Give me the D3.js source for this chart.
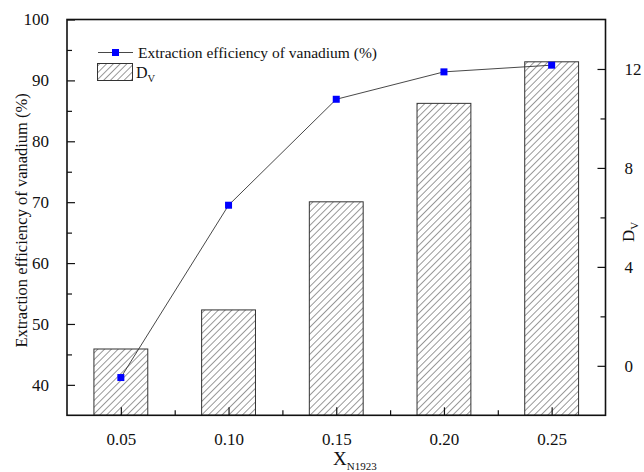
<!DOCTYPE html>
<html>
<head>
<meta charset="utf-8">
<script src="https://cdn.jsdelivr.net/npm/d3@7"></script>
<style>
  body { margin: 0; background: #fff; }
  svg text { font-family: "Liberation Serif", "Times New Roman", serif; fill: #111; }
</style>
</head>
<body>
<svg id="chart" width="644" height="472"></svg>
<script>
var xValues = [0.05, 0.10, 0.15, 0.20, 0.25];
var xTickLabels = ["0.05", "0.10", "0.15", "0.20", "0.25"];
var efficiency = [41.2, 69.5, 86.9, 91.4, 92.5];   // left axis, %
var dv = [0.68, 2.26, 6.63, 10.61, 12.29];          // right axis
var leftTicks = [40, 50, 60, 70, 80, 90, 100];
var leftMinor = [45, 55, 65, 75, 85, 95];
var rightTicks = [0, 4, 8, 12];
var rightMinor = [2, 6, 10];
var xMinor = [0.075, 0.125, 0.175, 0.225];

var margin = {left: 67, right: 38.5, top: 19.5, bottom: 56.7};
var width = 644 - margin.left - margin.right;
var height = 472 - margin.top - margin.bottom;

var svg = d3.select("#chart");

// hatch for the bars
var defs = svg.append("defs");
defs.append("pattern")
    .attr("id", "hatch")
    .attr("patternUnits", "userSpaceOnUse")
    .attr("width", 4.8).attr("height", 10)
    .attr("patternTransform", "rotate(45)")
  .append("line")
    .attr("x1", 0).attr("y1", 0).attr("x2", 0).attr("y2", 10)
    .attr("stroke", "#333").attr("stroke-width", 1);

var x = d3.scaleLinear().domain([0.025, 0.275]).range([0, width]);
var yLeft = d3.scaleLinear().domain([35, 100]).range([height, 0]);
var yRight = d3.scaleLinear().domain([-2, 14]).range([height, 0]);
var barW = x(0.0375) - x(0.0125);

var g = svg.append("g").attr("transform", "translate(" + margin.left + "," + margin.top + ")");

// bars (right axis)
g.selectAll("rect.bar")
  .data(dv)
  .enter()
  .append("rect")
  .attr("class", "bar")
  .attr("x", (d, i) => x(xValues[i]) - barW / 2)
  .attr("y", d => yRight(d))
  .attr("width", barW)
  .attr("height", d => yRight(-2) - yRight(d))
  .attr("fill", "url(#hatch)")
  .attr("stroke", "#333")
  .attr("stroke-width", 1);

// line + markers (left axis)
var line = d3.line().x((d, i) => x(xValues[i])).y(d => yLeft(d));
g.append("path")
  .datum(efficiency)
  .attr("d", line)
  .attr("fill", "none")
  .attr("stroke", "#333")
  .attr("stroke-width", 0.9);

g.selectAll("rect.pt")
  .data(efficiency)
  .enter()
  .append("rect")
  .attr("class", "pt")
  .attr("x", (d, i) => x(xValues[i]) - 3.5)
  .attr("y", d => yLeft(d) - 3.5)
  .attr("width", 7).attr("height", 7)
  .attr("fill", "#0000ff");

// axes, all ticks point inwards
function styleAxis(sel) {
  sel.attr("font-family", "Liberation Serif");
  sel.select(".domain").remove();
  sel.selectAll("line").attr("stroke", "#111").attr("stroke-width", 1.2);
  sel.selectAll("text").attr("font-size", 17);
}

var leftAxis = g.append("g")
  .call(d3.axisLeft(yLeft).tickValues(leftTicks).tickSize(-8).tickPadding(18).tickFormat(d3.format("d")));
styleAxis(leftAxis);
var leftMin = g.append("g").call(d3.axisLeft(yLeft).tickValues(leftMinor).tickSize(-5).tickFormat(""));
styleAxis(leftMin);

var rightAxis = g.append("g").attr("transform", "translate(" + width + ",0)")
  .call(d3.axisRight(yRight).tickValues(rightTicks).tickSize(-8).tickPadding(19).tickFormat(d3.format("d")));
styleAxis(rightAxis);
var rightMin = g.append("g").attr("transform", "translate(" + width + ",0)")
  .call(d3.axisRight(yRight).tickValues(rightMinor).tickSize(-5).tickFormat(""));
styleAxis(rightMin);

var bottomAxis = g.append("g").attr("transform", "translate(0," + height + ")")
  .call(d3.axisBottom(x).tickValues(xValues).tickSize(-8).tickPadding(18).tickFormat((d, i) => xTickLabels[i]));
styleAxis(bottomAxis);
var bottomMin = g.append("g").attr("transform", "translate(0," + height + ")")
  .call(d3.axisBottom(x).tickValues(xMinor).tickSize(-5).tickFormat(""));
styleAxis(bottomMin);

// frame
g.append("rect")
  .attr("width", width).attr("height", height)
  .attr("fill", "none").attr("stroke", "#111").attr("stroke-width", 1.6);

// axis titles
svg.append("text")
  .attr("transform", "translate(27," + (margin.top + height / 2 + 3) + ") rotate(-90)")
  .attr("text-anchor", "middle")
  .attr("font-size", 16.5)
  .text("Extraction efficiency of vanadium (%)");

var dvTitle = svg.append("text")
  .attr("transform", "translate(634,232) rotate(-90)")
  .attr("text-anchor", "middle")
  .attr("font-size", 17);
dvTitle.append("tspan").text("D");
dvTitle.append("tspan").attr("font-size", 11).attr("dy", 4).text("V");

var xTitle = svg.append("text")
  .attr("x", 333).attr("y", 465)
  .attr("font-size", 19);
xTitle.append("tspan").text("X");
xTitle.append("tspan").attr("font-size", 11).attr("dy", 5).text("N1923");

// legend
var lg = svg.append("g");
lg.append("line").attr("x1", 98).attr("x2", 133).attr("y1", 52.5).attr("y2", 52.5)
  .attr("stroke", "#333").attr("stroke-width", 0.9);
lg.append("rect").attr("x", 112).attr("y", 49).attr("width", 7).attr("height", 7).attr("fill", "#0000ff");
lg.append("text").attr("x", 138).attr("y", 57.5).attr("font-size", 15.5)
  .text("Extraction efficiency of vanadium (%)");
lg.append("rect").attr("x", 97.5).attr("y", 63.5).attr("width", 35).attr("height", 17)
  .attr("fill", "url(#hatch)").attr("stroke", "#333").attr("stroke-width", 1);
var lgDv = lg.append("text").attr("x", 136).attr("y", 78).attr("font-size", 16);
lgDv.append("tspan").text("D");
lgDv.append("tspan").attr("font-size", 10.5).attr("dy", 4).text("V");
</script>
</body>
</html>
